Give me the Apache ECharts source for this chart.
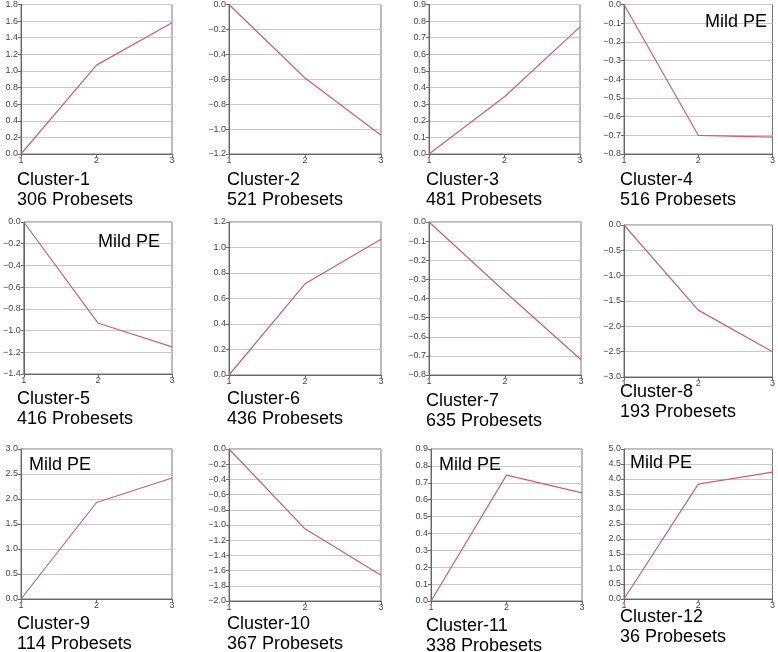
<!DOCTYPE html>
<html><head><meta charset="utf-8">
<script src="https://cdn.jsdelivr.net/npm/echarts@6/dist/echarts.min.js"></script>
<style>html,body{margin:0;padding:0;background:#fff}#c{width:778px;height:652px}</style>
</head><body><div id="c"></div>
<script>
// ---- data ----
const timePoints = [1, 2, 3];
const clusterNames = ['Cluster-1','Cluster-2','Cluster-3','Cluster-4','Cluster-5','Cluster-6','Cluster-7','Cluster-8','Cluster-9','Cluster-10','Cluster-11','Cluster-12'];
const probesetCounts = [306, 521, 481, 516, 416, 436, 635, 193, 114, 367, 338, 36];
const mildPE = [false, false, false, true, true, false, false, false, true, false, true, true];
const c1 = [0, 1.07, 1.58];
const c2 = [0, -0.59, -1.05];
const c3 = [0, 0.345, 0.765];
const c4 = [0, -0.70, -0.71];
const c5 = [0, -0.93, -1.15];
const c6 = [0, 0.715, 1.065];
const c7 = [0, -0.365, -0.72];
const c8 = [0, -1.68, -2.50];
const c9 = [0, 1.93, 2.42];
const c10 = [0, -1.05, -1.66];
const c11 = [0, 0.745, 0.64];
const c12 = [0, 3.83, 4.23];
const yMin = [0, -1.2, 0, -0.8, -1.4, 0, -0.8, -3.0, 0, -2.0, 0, 0];
const yMax = [1.8, 0, 0.9, 0, 0, 1.2, 0, 0, 3.0, 0, 0.9, 5.0];
const yStep = [0.2, 0.2, 0.1, 0.1, 0.2, 0.2, 0.1, 0.5, 0.5, 0.2, 0.1, 0.5];
const seriesValues = [c1, c2, c3, c4, c5, c6, c7, c8, c9, c10, c11, c12];

// ---- layout ----
const boxes = [
  {l:21, t:3, w:151, h:151}, {l:229, t:3, w:152, h:151}, {l:429, t:3, w:151, h:151}, {l:624, t:3, w:152, h:151},
  {l:21, t:222, w:151, h:152}, {l:229, t:222, w:152, h:153}, {l:429, t:222, w:152, h:153}, {l:624, t:225, w:152, h:152},
  {l:21, t:449, w:151, h:150}, {l:229, t:449, w:152, h:152}, {l:431, t:449, w:151, h:152}, {l:624, t:449, w:152, h:150}
];
const textPos = [
  {x:17, y1:181, y2:201}, {x:227, y1:181, y2:201}, {x:426, y1:181, y2:201}, {x:620, y1:181, y2:201},
  {x:17, y1:400, y2:420}, {x:227, y1:400, y2:420}, {x:426, y1:402, y2:422}, {x:620, y1:393, y2:413},
  {x:17, y1:625, y2:645}, {x:227, y1:625, y2:645}, {x:426, y1:627, y2:647}, {x:620, y1:618, y2:638}
];
const milds = {3:{x:705, y:23}, 4:{x:98, y:243}, 8:{x:29, y:466}, 10:{x:439, y:466}, 11:{x:630, y:464}};

const FONT = '"Liberation Sans", Arial, sans-serif';
const grid = [], xAxis = [], yAxis = [], series = [], graphic = [];
boxes.forEach((b, i) => {
  grid.push({left:b.l, top:b.t, width:b.w, height:b.h, show:true, borderColor:'#777', borderWidth:1, backgroundColor:'transparent'});
  xAxis.push({type:'value', gridIndex:i, min:timePoints[0], max:timePoints[timePoints.length-1], interval:1,
    axisLine:{show:true, onZero:false, lineStyle:{color:'#666'}},
    axisTick:{show:true, length:3, lineStyle:{color:'#666'}},
    axisLabel:{fontSize:9, color:'#444', fontFamily:FONT, margin:2},
    splitLine:{show:false}});
  yAxis.push({type:'value', gridIndex:i, min:yMin[i], max:yMax[i], interval:yStep[i],
    axisLine:{show:true, onZero:false, lineStyle:{color:'#666'}},
    axisTick:{show:true, length:3, lineStyle:{color:'#666'}},
    axisLabel:{fontSize:9, color:'#444', fontFamily:FONT, margin:3,
      formatter: v => (v < 0 ? '\u2212' : '') + Math.abs(v).toFixed(1)},
    splitLine:{show:true, lineStyle:{color:'#c8c8c8', width:1}}});
  series.push({type:'line', xAxisIndex:i, yAxisIndex:i, symbol:'none',
    data: timePoints.map((t, k) => [t, seriesValues[i][k]]),
    lineStyle:{color:'#cc6070', width:1.2}, animation:false});
  const tp = textPos[i];
  graphic.push({type:'text', left:tp.x, top:tp.y1 - 10, style:{text:clusterNames[i], font:'18px ' + FONT, fill:'#000'}});
  graphic.push({type:'text', left:tp.x, top:tp.y2 - 10, style:{text:probesetCounts[i] + ' Probesets', font:'18px ' + FONT, fill:'#000'}});
  if (mildPE[i]) {
    const m = milds[i];
    graphic.push({type:'text', left:m.x, top:m.y - 10, z:100, style:{text:'Mild PE', font:'18px ' + FONT, fill:'#000'}});
  }
});

const chart = echarts.init(document.getElementById('c'), null, {renderer:'canvas'});
chart.setOption({animation:false, backgroundColor:'#fff', grid, xAxis, yAxis, series, graphic});
</script></body></html>
